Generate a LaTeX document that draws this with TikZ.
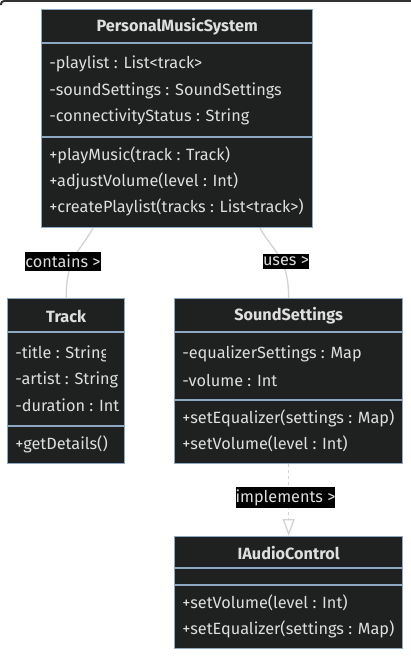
\documentclass[tikz,border=0pt]{standalone}
\usepackage{fontspec}
\setmainfont{Fira Sans}
\usetikzlibrary{arrows.meta, positioning, calc}
\definecolor{boxfill}{HTML}{1F2020}
\definecolor{boxline}{HTML}{8EA7C3}
\definecolor{boxtext}{HTML}{DEDEDE}
\definecolor{relgray}{HTML}{D3D3D3}
\definecolor{framedark}{HTML}{333333}

\begin{document}
\begin{tikzpicture}[x=0.75pt, y=-0.75pt,
  every node/.style={font=\fontsize{12.2}{14}\selectfont, text=boxtext, inner sep=0pt},
  cls/.style={draw=boxline, fill=boxfill, line width=1pt, anchor=north west},
  head/.style={font=\fontsize{12.2}{14}\selectfont\bfseries},
  member/.style={anchor=west},
  sep/.style={draw=boxline, line width=1pt},
  rel/.style={draw=relgray, line width=1pt},
  lbl/.style={fill=black, inner xsep=0pt, inner ysep=2pt},
]
  \useasboundingbox (0,0) rectangle (411,658);
  \draw[framedark, line width=1.5pt, rounded corners=3] (0.75,5) -- (0.75,0.75) -- (411,0.75);

  % class boxes
  \node[cls, minimum width=203.25pt, minimum height=163.5pt] (pms) at (41,9) {};
  \node[cls, minimum width=87.75pt, minimum height=123.75pt] (track) at (7,298) {};
  \node[cls, minimum width=171pt, minimum height=123.75pt] (sound) at (174,298) {};
  \node[cls, minimum width=171pt, minimum height=84pt] (iac) at (174,536) {};

  % PersonalMusicSystem
  \node[head] (pms-name) at ($(pms.north)+(0,18)$) {PersonalMusicSystem};
  \draw[sep] ($(pms.north west)+(0,34)$) -- ($(pms.north east)+(0,34)$);
  \node[member] (pms-a1) at ($(pms.north west)+(8,55)$) {-playlist : List<track>};
  \node[member] (pms-a2) at ($(pms.north west)+(8,82)$) {-soundSettings : SoundSettings};
  \node[member] (pms-a3) at ($(pms.north west)+(8,108)$) {-connectivityStatus : String};
  \draw[sep] ($(pms.north west)+(0,128)$) -- ($(pms.north east)+(0,128)$);
  \node[member] (pms-m1) at ($(pms.north west)+(8,146)$) {+playMusic(track : Track)};
  \node[member] (pms-m2) at ($(pms.north west)+(8,172)$) {+adjustVolume(level : Int)};
  \node[member] (pms-m3) at ($(pms.north west)+(8,198)$) {+createPlaylist(tracks : List<track>)};

  % Track (text cut at the box edge)
  \node[head] (track-name) at ($(track.north)+(0,18)$) {Track};
  \draw[sep] ($(track.north west)+(0,34)$) -- ($(track.north east)+(0,34)$);
  \begin{scope}
    \clip (track.north west) rectangle ($(track.south west)+(98,0)$);
    \node[member] (track-a1) at ($(track.north west)+(8,56)$) {-title : String};
  \end{scope}
  \begin{scope}
    \clip (track.north west) rectangle ($(track.south east)+(-2,0)$);
    \node[member] (track-a2) at ($(track.north west)+(8,82)$) {-artist : String};
    \node[member] (track-a3) at ($(track.north west)+(8,107)$) {-duration : Int};
  \end{scope}
  \draw[sep] ($(track.north west)+(0,128)$) -- ($(track.north east)+(0,128)$);
  \node[member] (track-m1) at ($(track.north west)+(8,146)$) {+getDetails()};

  % SoundSettings
  \node[head] (sound-name) at ($(sound.north)+(0,18)$) {SoundSettings};
  \draw[sep] ($(sound.north west)+(0,34)$) -- ($(sound.north east)+(0,34)$);
  \node[member] (sound-a1) at ($(sound.north west)+(8,56)$) {-equalizerSettings : Map};
  \node[member] (sound-a2) at ($(sound.north west)+(8,82)$) {-volume : Int};
  \draw[sep] ($(sound.north west)+(0,102)$) -- ($(sound.north east)+(0,102)$);
  \node[member] (sound-m1) at ($(sound.north west)+(8,120)$) {+setEqualizer(settings : Map)};
  \node[member] (sound-m2) at ($(sound.north west)+(8,146)$) {+setVolume(level : Int)};

  % IAudioControl
  \node[head] (iac-name) at ($(iac.north)+(0,17)$) {IAudioControl};
  \draw[sep] ($(iac.north west)+(0,32)$) -- ($(iac.north east)+(0,32)$);
  \draw[sep] ($(iac.north west)+(0,49)$) -- ($(iac.north east)+(0,49)$);
  \node[member] (iac-m1) at ($(iac.north west)+(8,67)$) {+setVolume(level : Int)};
  \node[member] (iac-m2) at ($(iac.north west)+(8,93)$) {+setEqualizer(settings : Map)};

  % relations
  \draw[rel] ($(pms.south west)+(52,0)$) .. controls +(-14,24) and +(0,-40) .. (track.north);
  \draw[rel] ($(pms.south west)+(219,0)$) .. controls +(14,24) and +(0,-40) .. (sound.north);
  \draw[rel, dash pattern=on 2.25pt off 2.25pt, -{Triangle[open, length=12.75pt, width=9pt]}] (sound.south) -- (iac.north);

  \node[lbl] (contains-lbl) at (63,261.5) {contains >};
  \node[lbl] (uses-lbl) at (286,261.5) {uses >};
  \node[lbl] (impl-lbl) at (285.5,497.5) {implements >};
\end{tikzpicture}
\end{document}
